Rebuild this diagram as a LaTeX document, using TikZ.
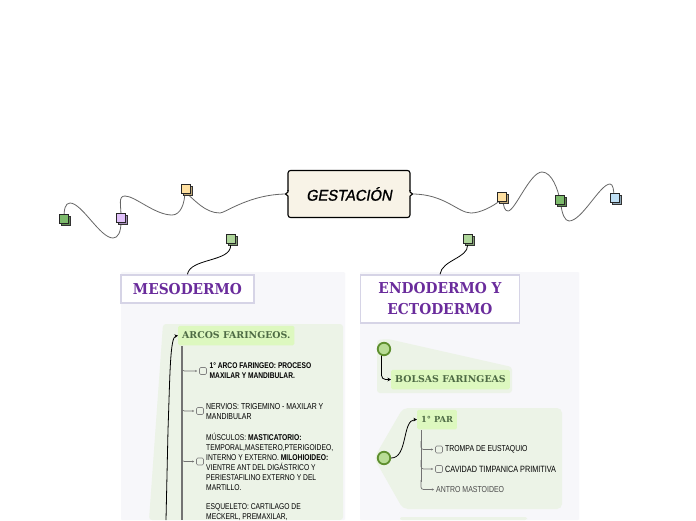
\documentclass[tikz,border=0pt]{standalone}
\usepackage{fontspec}
\setmainfont{Liberation Sans}
\newfontfamily\headf{DejaVu Serif}[FakeStretch=0.92]
\newfontfamily\subf{DejaVu Serif}[FakeStretch=1.0]
\newfontfamily\bodyf{Liberation Sans}[FakeStretch=0.8]
\newfontfamily\titlef{Liberation Sans}[FakeSlant=0.18,FakeStretch=0.95,FakeBold=1.2]
\usetikzlibrary{arrows.meta}
\definecolor{panel}{HTML}{F7F7FA}
\definecolor{pale}{HTML}{ECF3E7}
\definecolor{lime}{HTML}{DDF8BF}
\definecolor{purp}{HTML}{6A2C9C}
\definecolor{edgeb}{HTML}{D6D4E6}
\definecolor{titlebg}{HTML}{F8F3E7}
\definecolor{ring}{HTML}{5E8F2E}
\definecolor{ringf}{HTML}{B8DC95}
\definecolor{subt}{HTML}{4E6B45}
\tikzset{x=1pt,y=-1pt,
 head/.style={draw=edgeb,line width=1.5pt,fill=white,text=purp,font=\headf\bfseries\fontsize{15}{21}\selectfont,align=center,inner sep=0pt},
 topic/.style={fill=lime,rounded corners=1.5pt,text=subt,font=\subf\bfseries\fontsize{9.4}{10}\selectfont,inner xsep=4pt,inner ysep=0pt,minimum height=19.5pt},
 body/.style={font=\bodyf\fontsize{8.4}{10}\selectfont,text=black,align=left,anchor=west,inner sep=0pt},
 cbox/.style={draw=black!50,fill=pale,rounded corners=1.2pt,line width=.6pt,minimum size=7pt,inner sep=0pt},
 curve/.style={draw=black!60,line width=.8pt},
 link/.style={draw=black,line width=.8pt},
 branch/.style={draw=black!55,line width=.7pt,-{Stealth[length=2pt,width=2pt]},rounded corners=2.5pt,shorten >=2pt},
 trunk/.style={draw=black!55,line width=1.2pt},
 arrowk/.style={draw=black,line width=.8pt,-{Stealth[length=3.5pt,width=3.5pt]}},
 ringn/.style={circle,draw=ring,fill=ringf,line width=1.8pt,minimum size=12.5pt,inner sep=0pt},
}
\newcommand{\stack}[4]{% name, x, y, colour
 \fill[#4!75!black,draw=black!80,line width=.7pt] (#2+1.5,#3+1.5) rectangle +(8.5,8.5);
 \node[draw=black!85,line width=.7pt,fill=#4,minimum size=8.5pt,inner sep=0pt,anchor=north west] (#1) at (#2-1,#3-1) {};}
\definecolor{sg}{HTML}{7DBB6C}\definecolor{sp}{HTML}{E0C0FA}\definecolor{sy}{HTML}{FFE0A0}
\definecolor{sl}{HTML}{AED69A}\definecolor{sb}{HTML}{BFE0F5}
\begin{document}
\begin{tikzpicture}
\useasboundingbox (0,0) rectangle (696,520);
\fill[white] (0,0) rectangle (696,520);
% panels
\fill[panel,rounded corners=1pt] (121,272) rectangle (345,520);
\fill[panel,rounded corners=1pt] (360,272) rectangle (579,520);
% pale green shapes
\fill[pale,rounded corners=3pt] (163,324) -- (343,324) -- (343,520) -- (149,520) -- cycle;
\fill[pale,rounded corners=3pt] (377,340) -- (388,339) -- (512,367) -- (512,393) -- (377,393) -- cycle;
\fill[pale,rounded corners=5pt] (403,408) -- (562,408) -- (562,509) -- (403,509) -- (374,458) -- cycle;
\fill[pale,rounded corners=2pt] (400,517) -- (527,517) -- (527,520) -- (400,520) -- cycle;
% curves
\draw[curve] (287,194) .. controls (250,194) and (225,213) .. (220,213) .. controls (205,213) and (195,200) .. (186,193);
\draw[curve] (185,190) .. controls (185,205) and (180,215) .. (172,215) .. controls (155,215) and (135,196) .. (125,196) .. controls (118,196) and (121,205) .. (121,216);
\draw[curve] (121,222) .. controls (121,232) and (118,238) .. (113,238) .. controls (100,238) and (82,203) .. (70,203) .. controls (65,203) and (64,210) .. (64,218);
\draw[curve] (412,194) .. controls (445,194) and (458,213) .. (471,213) .. controls (480,213) and (492,207) .. (501,200);
\draw[curve] (503,198) .. controls (503,207) and (505,211) .. (508,211) .. controls (515,211) and (530,172) .. (542,172) .. controls (552,172) and (558,190) .. (560,200);
\draw[curve] (561,205) .. controls (562,214) and (565,221) .. (569,221) .. controls (582,221) and (600,184) .. (610,184) .. controls (613,184) and (614,190) .. (614,198);
\stack{g1}{60}{215}{sg}
\stack{p1}{117}{214}{sp}
\stack{y1}{182}{185}{sy}
\stack{y2}{498}{193}{sy}
\stack{g2}{556}{196}{sg}
\stack{b1}{611}{194}{sb}
\stack{l1}{227}{235}{sl}
\stack{l2}{464}{235}{sl}
% title
\node[draw=black,line width=1.1pt,fill=titlebg,rounded corners=2.5pt,minimum width=122pt,minimum height=47pt,font=\titlef\fontsize{15.5}{17}\selectfont,inner sep=0pt] (title) at (349,194) {GESTACIÓN};
\fill[titlebg] (287,190.5) rectangle (289.5,197.5);
\fill[titlebg] (408.5,190.5) rectangle (411,197.5);
\draw[draw=black,line width=1.1pt,line join=round] (288,190)--(288,192)--(285.5,194)--(288,196)--(288,198);
\draw[draw=black,line width=1.1pt,line join=round] (410,190)--(410,192)--(412.5,194)--(410,196)--(410,198);
% headings
\node[head,minimum width=133pt,minimum height=28pt] (meso) at (187.5,289) {MESODERMO};
\node[head,minimum width=159pt,minimum height=48pt] (endo) at (440,299) {ENDODERMO Y\\ECTODERMO};
\draw[link] (l1.south) ++(0,2) .. controls (231.5,262) and (190,258) .. (meso.north);
\draw[link] (l2.south) ++(0,2) .. controls (468,258) and (442,260) .. (endo.north);
% left tree
\node[topic,anchor=west] (arcos) at (178,335.5) {ARCOS FARINGEOS.};
\draw[arrowk] (166,520) -- (168,430) .. controls (170,375) and (170,337) .. (arcos.west);
\draw[trunk] (182,346) -- (182,520);
\node[body,font=\bodyf\bfseries\fontsize{8.3}{10}\selectfont] (t1) at (209.5,371) {1° ARCO FARINGEO: PROCESO\\MAXILAR Y MANDIBULAR.};
\node[cbox] (c1) at (203,371) {};
\draw[branch] (182,362) |- (c1.west);
\node[body,font=\bodyf\fontsize{8.65}{10}\selectfont] (t2) at (206,411.7) {NERVIOS: TRIGEMINO - MAXILAR Y\\MANDIBULAR};
\node[cbox] (c2) at (200,411) {};
\draw[branch] (182,402) |- (c2.west);
\node[body] (t3) at (206,462) {MÚSCULOS: \textbf{MASTICATORIO:}\\TEMPORAL,MASETERO,PTERIGOIDEO,\\INTERNO Y EXTERNO. \textbf{MILOHIOIDEO:}\\VIENTRE ANT DEL DIGÁSTRICO Y\\PERIESTAFILINO EXTERNO Y DEL\\MARTILLO.};
\node[cbox] (c3) at (200,461.5) {};
\draw[branch] (182,452) |- (c3.west);
\node[body] (t4) at (206,511.7) {ESQUELETO: CARTILAGO DE\\MECKERL, PREMAXILAR,};
% right tree
\node[ringn] (r1) at (384,349) {};
\node[topic,anchor=west] (bolsas) at (391,379.5) {BOLSAS FARINGEAS};
\draw[arrowk,rounded corners=4pt] (r1.250) |- (bolsas.west);
\node[ringn] (r2) at (384,458) {};
\node[topic,anchor=west,font=\subf\bfseries\fontsize{8.3}{10}\selectfont] (par) at (417,419.5) {1° PAR};
\draw[arrowk] (r2.east) .. controls (408,458) and (402,420) .. (par.west);
\draw[trunk,line width=1pt] (421,430) -- (421,482);
\node[cbox] (c4) at (439,449.5) {};
\node[body,font=\bodyf\fontsize{8.6}{10}\selectfont] (t5) at (445,449.5) {TROMPA DE EUSTAQUIO};
\draw[branch] (421,441) |- (c4.west);
\node[cbox] (c5) at (439,469) {};
\node[body,font=\bodyf\fontsize{9.1}{10}\selectfont] (t6) at (445,469) {CAVIDAD TIMPANICA PRIMITIVA};
\draw[branch] (421,460) |- (c5.west);
\node[body,font=\bodyf\fontsize{8.7}{10}\selectfont,text=black!70] (t7) at (436,489.5) {ANTRO MASTOIDEO};
\draw[branch] (421,480) |- (t7.west);
\end{tikzpicture}
\end{document}
